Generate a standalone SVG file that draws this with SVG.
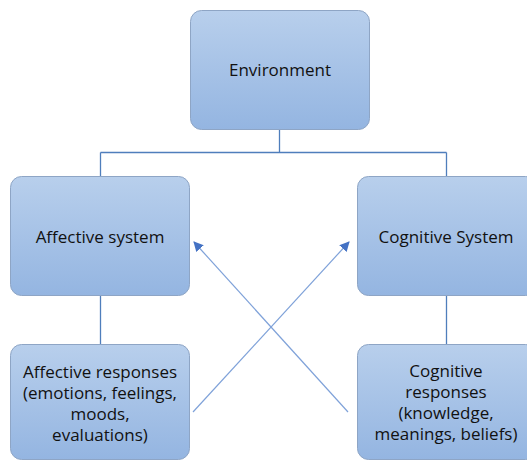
<svg xmlns="http://www.w3.org/2000/svg" width="527" height="461" viewBox="0 0 527 461">
<defs>
<linearGradient id="g" x1="0" y1="0" x2="0" y2="1">
<stop offset="0" stop-color="#b8cfec"/>
<stop offset="1" stop-color="#94b5e1"/>
</linearGradient>
<marker id="arr" viewBox="0 0 10 10" refX="9" refY="5" markerWidth="10" markerHeight="10" orient="auto" markerUnits="userSpaceOnUse">
<path d="M0,0 L10,5 L0,10 z" fill="#4472c4"/>
</marker>
<style>
.box{fill:url(#g);stroke:#8ea5c5;stroke-width:1}
.t{font-family:"Open Sans","Noto Sans",sans-serif;font-size:17px;fill:#111;text-anchor:middle}
.c{stroke:#4f7ebc;stroke-width:1.3;fill:none}
.a{stroke:#7fa2d9;stroke-width:1.2;fill:none}
</style>
</defs>
<g id="connectors">
<path class="c" d="M279.5,129 V152.5 M100.5,152.5 H446.5 M100.5,152.5 V176 M446.5,152.5 V176 M100.5,296 V344 M446.5,296 V344"/>
<line class="a" x1="193" y1="412" x2="349" y2="242" marker-end="url(#arr)"/>
<line class="a" x1="348" y1="412" x2="194" y2="242" marker-end="url(#arr)"/>
</g>
<g id="environment">
<rect class="box" x="190.5" y="10.5" width="179" height="119" rx="11"/>
<text class="t" x="280" y="76">Environment</text>
</g>
<g id="affective-system">
<rect class="box" x="10.5" y="176.5" width="179" height="119" rx="11"/>
<text class="t" x="100" y="243">Affective system</text>
</g>
<g id="cognitive-system">
<rect class="box" x="357.5" y="176.5" width="179" height="119" rx="11"/>
<text class="t" x="446" y="243">Cognitive System</text>
</g>
<g id="affective-responses">
<rect class="box" x="10.5" y="344.5" width="179" height="115" rx="11"/>
<text class="t" x="100" y="378">Affective responses</text>
<text class="t" x="100" y="399">(emotions, feelings,</text>
<text class="t" x="100" y="420">moods,</text>
<text class="t" x="100" y="441">evaluations)</text>
</g>
<g id="cognitive-responses">
<rect class="box" x="357.5" y="344.5" width="179" height="115" rx="11"/>
<text class="t" x="446" y="377">Cognitive</text>
<text class="t" x="446" y="398">responses</text>
<text class="t" x="446" y="419">(knowledge,</text>
<text class="t" x="446" y="440">meanings, beliefs)</text>
</g>
</svg>
